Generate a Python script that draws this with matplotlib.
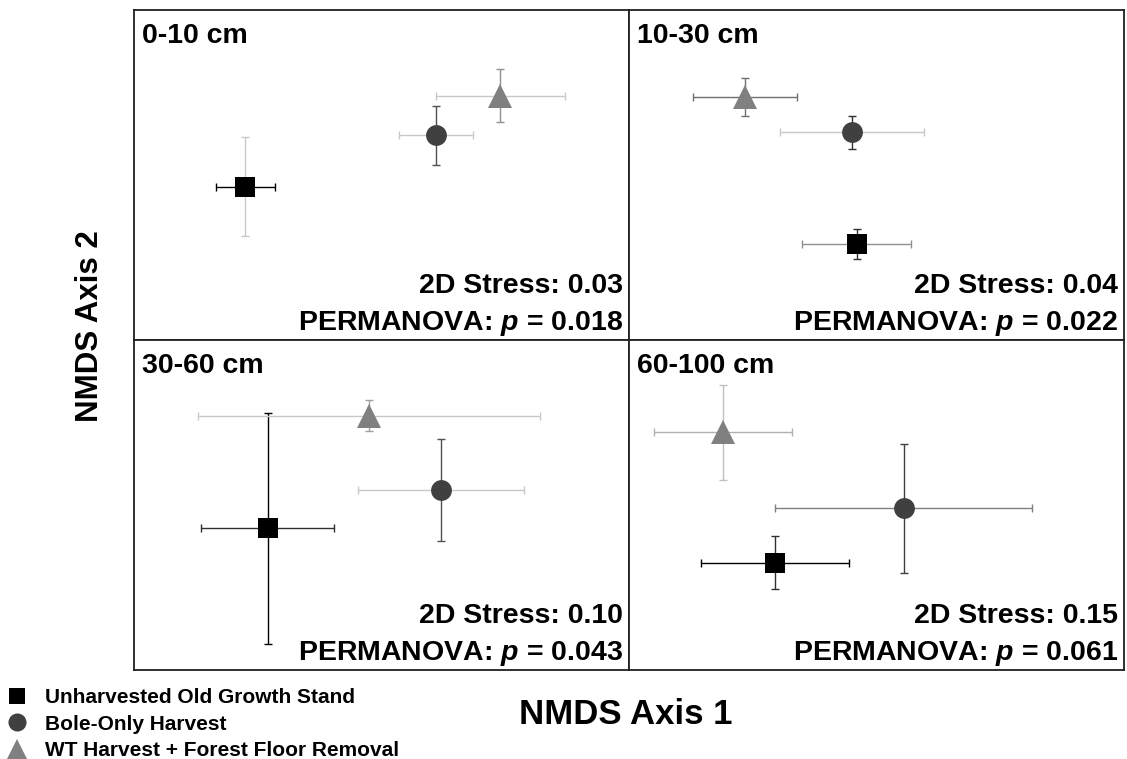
import matplotlib
matplotlib.use("Agg")
import matplotlib.pyplot as plt
from matplotlib.lines import Line2D

plt.rcParams['font.family'] = ['Liberation Sans', 'DejaVu Sans']
plt.rcParams['font.weight'] = 'bold'
plt.rcParams['mathtext.fontset'] = 'custom'
plt.rcParams['mathtext.it'] = 'Liberation Sans:italic:bold'
plt.rcParams['mathtext.rm'] = 'Liberation Sans:bold'

# ---- data (NMDS coordinates, arbitrary units) ----
depths = ["0-10 cm", "10-30 cm", "30-60 cm", "60-100 cm"]
stress = ["0.03", "0.04", "0.10", "0.15"]
pvals = ["0.018", "0.022", "0.043", "0.061"]
treatments = ["Unharvested Old Growth Stand", "Bole-Only Harvest",
              "WT Harvest + Forest Floor Removal"]

# per depth: [square, circle, triangle]
x_mean = [[-0.55, 0.22, 0.48],
          [-0.08, -0.10, -0.53],
          [-0.46, 0.24, -0.05],
          [-0.41, 0.11, -0.62]]
y_mean = [[-0.07, 0.24, 0.48],
          [-0.42, 0.26, 0.47],
          [-0.14, 0.09, 0.54],
          [-0.35, -0.02, 0.44]]
x_err = [[0.12, 0.15, 0.26],
         [0.22, 0.29, 0.21],
         [0.27, 0.335, 0.69],
         [0.30, 0.52, 0.28]]
y_err = [[0.30, 0.18, 0.16],
         [0.09, 0.10, 0.115],
         [0.70, 0.31, 0.094],
         [0.16, 0.39, 0.29]]

# ---- styles ----
markers = ['s', 'o', '^']
mcolors = ['#000000', '#404040', '#808080']
msizes = [14, 15, 17]
xerr_col = [['#000000', '#c8c8c8', '#c8c8c8'],
            ['#909090', '#c8c8c8', '#707070'],
            ['#303030', '#c8c8c8', '#c8c8c8'],
            ['#000000', '#808080', '#b0b0b0']]
yerr_col = [['#c8c8c8', '#505050', '#909090'],
            ['#303030', '#303030', '#707070'],
            ['#000000', '#505050', '#a0a0a0'],
            ['#303030', '#404040', '#c0c0c0']]

W, H = 1127, 759
fig = plt.figure(figsize=(W / 100, H / 100), dpi=100)

panels = [(134, 10), (629, 10), (134, 340), (629, 340)]
pw, ph = 495, 330

for k in range(4):
    left, top = panels[k]
    ax = fig.add_axes([left / W, (H - top - ph) / H, pw / W, ph / H])
    ax.set_xlim(-1, 1)
    ax.set_ylim(-1, 1)
    ax.set_xticks([])
    ax.set_yticks([])
    for s in ax.spines.values():
        s.set_linewidth(1.3)
        s.set_color('#202020')
    for i in range(3):
        ax.errorbar(x_mean[k][i], y_mean[k][i], xerr=x_err[k][i], fmt='none',
                    ecolor=xerr_col[k][i], elinewidth=1.0, capsize=3,
                    capthick=1.0, zorder=2)
        ax.errorbar(x_mean[k][i], y_mean[k][i], yerr=y_err[k][i], fmt='none',
                    ecolor=yerr_col[k][i], elinewidth=1.0, capsize=3,
                    capthick=1.0, zorder=2)
        ax.plot(x_mean[k][i], y_mean[k][i], marker=markers[i],
                color=mcolors[i], markersize=msizes[i], linestyle='none',
                markeredgewidth=0, zorder=3)
    ax.text(8 / pw, 1 - 33 / ph, depths[k], transform=ax.transAxes,
            fontsize=20.5, fontweight='bold', ha='left', va='baseline')
    ax.text(1 - 6 / pw, 47 / ph, "2D Stress: " + stress[k],
            transform=ax.transAxes, fontsize=20.5, fontweight='bold',
            ha='right', va='baseline')
    ax.text(1 - 6 / pw, 10 / ph, "PERMANOVA: $p$ = " + pvals[k],
            transform=ax.transAxes, fontsize=20.5, fontweight='bold',
            ha='right', va='baseline')

fig.text(90 / W, 1 - 326 / H, "NMDS Axis 2", rotation=90, fontsize=22.5,
         fontweight='bold', ha='center', va='center')
fig.text(626 / W, 1 - 715 / H, "NMDS Axis 1", fontsize=25,
         fontweight='bold', ha='center', va='center')

handles = [Line2D([], [], marker=markers[i], color=mcolors[i], linestyle='none',
                  markersize=[11, 13, 14][i], markeredgewidth=0)
           for i in range(3)]
fig.legend(handles, treatments, loc='upper left',
           bbox_to_anchor=(4 / W, 1 - 688 / H), frameon=False,
           prop={'weight': 'bold', 'size': 15}, handlelength=1.2,
           handletextpad=0.75, labelspacing=0.36, borderpad=0,
           borderaxespad=0)

fig.savefig("out.png", dpi=100)
